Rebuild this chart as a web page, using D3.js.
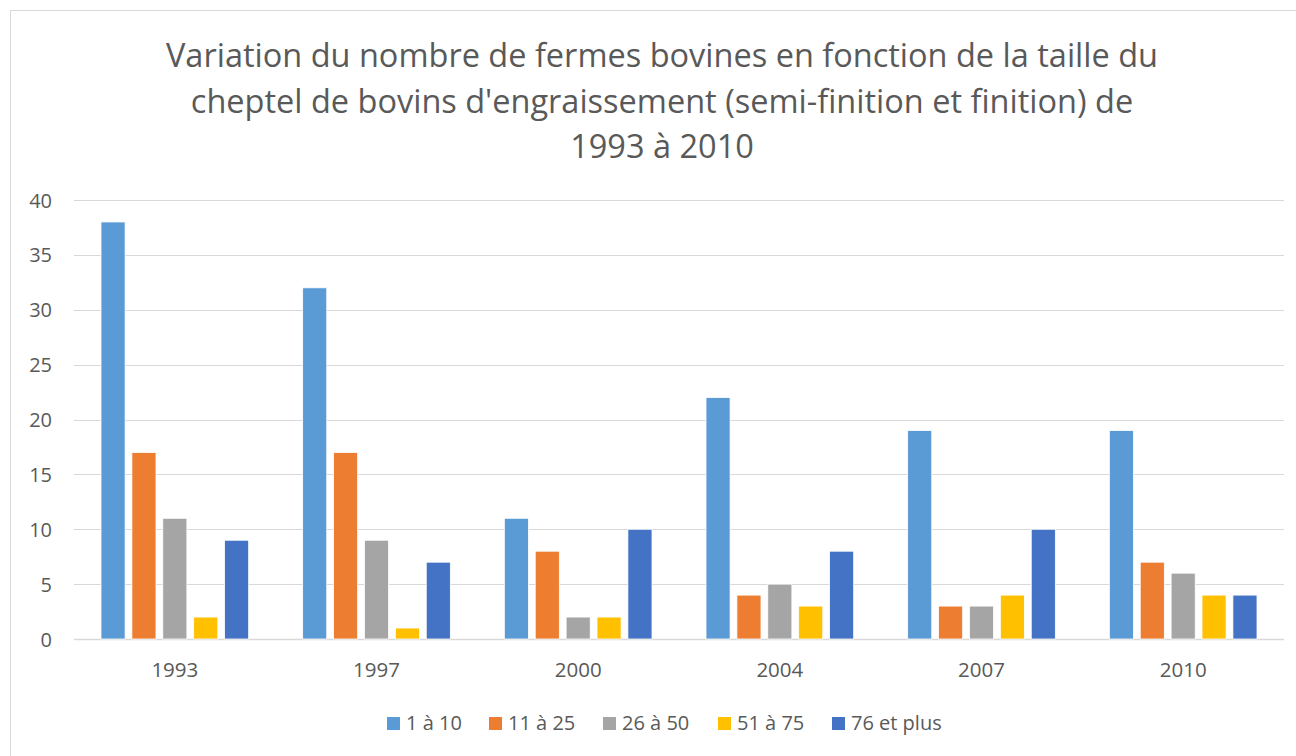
<!DOCTYPE html>
<html>
<head>
<meta charset="utf-8">
<script src="https://cdn.jsdelivr.net/npm/d3@7"></script>
<style>
  body { margin: 0; background: #fff; }
  text { font-family: "Open Sans", "Noto Sans", sans-serif; fill: #595959; }
</style>
</head>
<body>
<div id="container"></div>
<script>
const w = 1296,
  h = 756,
  margin = { top: 200, right: 12, bottom: 117, left: 74 };

const titleLines = [
  'Variation du nombre de fermes bovines en fonction de la taille du',
  "cheptel de bovins d'engraissement (semi-finition et finition) de",
  '1993 à 2010',
];

const years = ['1993', '1997', '2000', '2004', '2007', '2010'];
const series = ['1 à 10', '11 à 25', '26 à 50', '51 à 75', '76 et plus'];
const colors = ['#5b9bd5', '#ed7d31', '#a5a5a5', '#ffc000', '#4472c4'];

const v1to10 = [38, 32, 11, 22, 19, 19];
const v11to25 = [17, 17, 8, 4, 3, 7];
const v26to50 = [11, 9, 2, 5, 3, 6];
const v51to75 = [2, 1, 2, 3, 4, 4];
const v76plus = [9, 7, 10, 8, 10, 4];
const values = [v1to10, v11to25, v26to50, v51to75, v76plus];

const yTicks = [0, 5, 10, 15, 20, 25, 30, 35, 40];

const svg = d3
  .select('#container')
  .append('svg')
  .attr('width', w)
  .attr('height', h);

// chart border
svg
  .append('rect')
  .attr('x', 10.5)
  .attr('y', 10.5)
  .attr('width', w)
  .attr('height', h)
  .attr('fill', 'none')
  .attr('stroke', '#d9d9d9');

svg
  .append('g')
  .attr('id', 'title')
  .selectAll('text')
  .data(titleLines)
  .enter()
  .append('text')
  .text((d) => d)
  .attr('x', 662)
  .attr('y', (d, i) => 67 + i * 45.5)
  .attr('text-anchor', 'middle')
  .style('font-size', '32.5px');

const innerW = w - margin.left - margin.right;
const innerH = h - margin.top - margin.bottom;

const x0 = d3
  .scaleBand()
  .domain(years)
  .range([margin.left, margin.left + innerW])
  .paddingInner(0)
  .paddingOuter(0);

const x1 = d3
  .scaleBand()
  .domain(series)
  .range([27, x0.bandwidth() - 27])
  .paddingInner(0.22)
  .paddingOuter(0);

const y = d3
  .scaleLinear()
  .domain([0, 40])
  .range([margin.top + innerH, margin.top]);

// gridlines
svg
  .append('g')
  .selectAll('line')
  .data(yTicks)
  .enter()
  .append('line')
  .attr('x1', margin.left)
  .attr('x2', margin.left + innerW)
  .attr('y1', (d) => Math.round(y(d)) + 0.5)
  .attr('y2', (d) => Math.round(y(d)) + 0.5)
  .attr('stroke', '#d9d9d9')
  .attr('stroke-width', (d) => (d === 0 ? 1.5 : 1.2));

const yAxis = d3.axisLeft(y).tickValues(yTicks).tickSize(0).tickPadding(0);
const gy = svg
  .append('g')
  .attr('transform', 'translate(52, 0)')
  .call(yAxis);
gy.select('.domain').remove();
gy.selectAll('text')
  .attr('text-anchor', 'end')
  .attr('dy', '0.35em')
  .style('font-size', '20px')
  .style('fill', '#595959');

const xAxis = d3.axisBottom(x0).tickSize(0).tickPadding(0);
const gx = svg
  .append('g')
  .attr('transform', 'translate(0,' + (margin.top + innerH) + ')')
  .call(xAxis);
gx.select('.domain').remove();
gx.selectAll('text')
  .attr('dy', null)
  .attr('y', 38)
  .style('font-size', '20.5px')
  .style('fill', '#595959');

// bars
const groups = svg
  .append('g')
  .selectAll('g')
  .data(years)
  .enter()
  .append('g')
  .attr('transform', (d) => 'translate(' + x0(d) + ',0)');

groups
  .selectAll('rect')
  .data((d, i) => series.map((s, j) => ({ s: s, v: values[j][i], c: colors[j] })))
  .enter()
  .append('rect')
  .attr('x', (d) => x1(d.s))
  .attr('width', x1.bandwidth())
  .attr('y', (d) => y(d.v))
  .attr('height', (d) => y(0) - y(d.v))
  .attr('fill', (d) => d.c)
  .attr('stroke', '#fff')
  .attr('stroke-width', 0.8);

// legend
const legend = svg.append('g').attr('id', 'legend');
const legendX = [387, 489, 603, 718, 832];
const items = legend
  .selectAll('g')
  .data(series)
  .enter()
  .append('g')
  .attr('transform', (d, i) => 'translate(' + legendX[i] + ',717)');
items
  .append('rect')
  .attr('width', 13)
  .attr('height', 13)
  .attr('fill', (d, i) => colors[i]);
items
  .append('text')
  .text((d) => d)
  .attr('x', 19)
  .attr('y', 12.5)
  .style('font-size', '20px');
</script>
</body>
</html>
